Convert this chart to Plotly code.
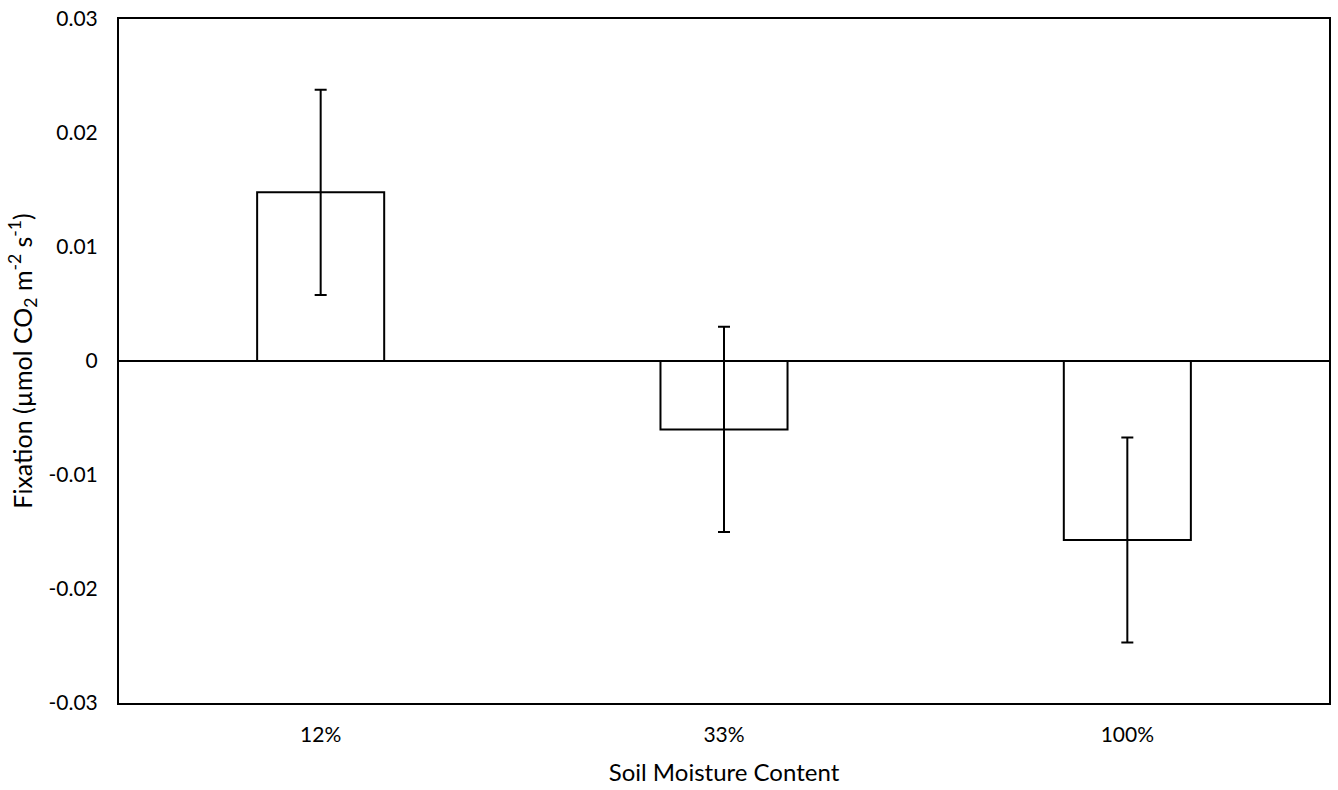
import plotly.graph_objects as go

# Soil moisture treatments and mean CO2 fixation with error (± SE)
moisture = ["12%", "33%", "100%"]
fixation = [0.0148, -0.0060, -0.0157]
fixation_err = [0.0090, 0.0090, 0.0090]

y_ticks = [-0.03, -0.02, -0.01, 0, 0.01, 0.02, 0.03]
y_tick_text = ["-0.03", "-0.02", "-0.01", "0", "0.01", "0.02", "0.03"]

font_family = "Lato, 'Open Sans', sans-serif"

fig = go.Figure()
fig.add_trace(go.Bar(
    x=moisture,
    y=fixation,
    marker=dict(color="white", line=dict(color="black", width=2)),
    error_y=dict(type="data", array=fixation_err, visible=True,
                 color="black", thickness=2, width=6),
    width=0.315,
))

fig.update_layout(
    width=1338, height=790,
    margin=dict(l=119, r=9, t=19, b=87),
    paper_bgcolor="white", plot_bgcolor="white",
    showlegend=False,
    font=dict(family=font_family, size=21, color="black"),
    xaxis=dict(
        automargin=False,
        showline=True, linecolor="black", linewidth=2, mirror=True,
        showgrid=False, ticks="", ticklabelstandoff=12,
        title=dict(text="Soil Moisture Content", font=dict(size=24), standoff=19),
        tickfont=dict(size=21),
    ),
    yaxis=dict(
        automargin=False,
        range=[-0.03, 0.03],
        tickvals=y_ticks, ticktext=y_tick_text,
        showline=True, linecolor="black", linewidth=2, mirror=True,
        showgrid=False, ticks="", ticklabelstandoff=15,
        zeroline=True, zerolinecolor="black", zerolinewidth=2,
        title=dict(text="Fixation (µmol CO<sub>2</sub> m<sup>-2</sup> s<sup>-1</sup>)",
                   font=dict(size=25), standoff=9),
        tickfont=dict(size=21),
    ),
)

fig.write_html("out.html")
